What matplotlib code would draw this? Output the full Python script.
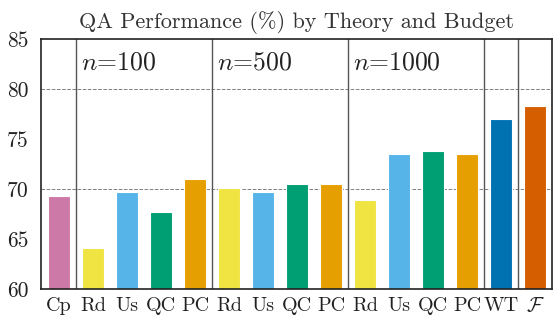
import matplotlib
matplotlib.use("Agg")
import matplotlib.pyplot as plt

plt.rcParams['font.family'] = 'serif'
plt.rcParams['font.serif'] = ['cmr10']
plt.rcParams['mathtext.fontset'] = 'cm'
plt.rcParams['axes.formatter.use_mathtext'] = True

# Methods along the x axis
labels = ["Cp", "Rd", "Us", "QC", "PC", "Rd", "Us", "QC", "PC",
          "Rd", "Us", "QC", "PC", "WT", r"$\mathcal{F}$"]

# QA performance (%)
scores = [69.3, 64.1, 69.7, 67.7, 71.0,
          70.1, 69.7, 70.5, 70.5,
          68.9, 73.5, 73.8, 73.5,
          77.0, 78.3]

# Okabe-Ito colours per method
colors = ["#CC79A7", "#F0E442", "#56B4E9", "#009E73", "#E69F00",
          "#F0E442", "#56B4E9", "#009E73", "#E69F00",
          "#F0E442", "#56B4E9", "#009E73", "#E69F00",
          "#0072B2", "#D55E00"]

budgets = [r"$n$=100", r"$n$=500", r"$n$=1000"]
budget_starts = [1, 5, 9]

fig = plt.figure(figsize=(5.53, 3.18), dpi=100)
ax = fig.add_axes([0.074, 0.091, 0.924, 0.786])

x = list(range(len(scores)))
ax.bar(x, scores, width=0.66, color=colors, edgecolor="white", linewidth=0.8, zorder=3)

# dashed reference lines
for y in [70, 80]:
    ax.axhline(y, color="gray", linestyle="--", linewidth=0.7, zorder=1)

# group separators
for sep in [0.5, 4.5, 8.5, 12.5, 13.5]:
    ax.axvline(sep, color="#555555", linewidth=1.0, zorder=2)

for start, txt in zip(budget_starts, budgets):
    ax.text(start - 0.5 + 0.15, 82.6, txt, fontsize=18.5, va="center", ha="left", color="#222222")

ax.set_ylim(60, 85)
ax.set_xlim(-0.53, 14.5)
ax.set_yticks([60, 65, 70, 75, 80, 85])
ax.set_yticklabels(["60", "65", "70", "75", "80", "85"], fontsize=15.5, color="#222222")
ax.set_xticks(x)
ax.set_xticklabels(labels, fontsize=14.5, color="#222222")
ax.tick_params(axis="y", length=0, pad=9)
ax.tick_params(axis="x", length=0, pad=6)
for s in ax.spines.values():
    s.set_linewidth(1.2)
    s.set_color("#222222")
    s.set_zorder(5)

ax.set_title("QA Performance (%) by Theory and Budget", fontsize=16, pad=8, color="#333333")

fig.savefig("out.png", dpi=100)
